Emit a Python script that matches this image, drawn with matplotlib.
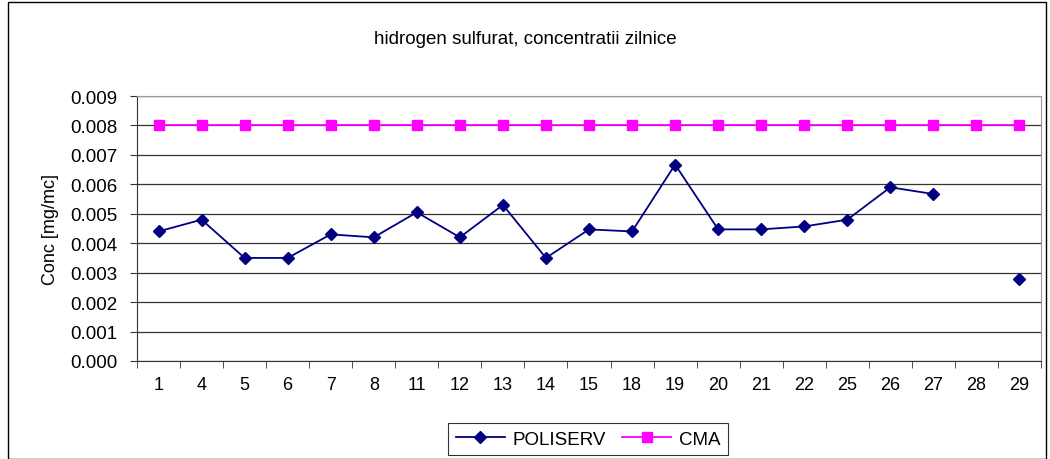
import numpy as np
import matplotlib
matplotlib.use('Agg')
from matplotlib import pyplot as plt
from matplotlib.patches import Rectangle

days = ['1', '4', '5', '6', '7', '8', '11', '12', '13', '14', '15', '18', '19',
        '20', '21', '22', '25', '26', '27', '28', '29']
poliserv = [0.0044, 0.0048, 0.0035, 0.0035, 0.0043, 0.0042, 0.00505, 0.0042, 0.0053,
            0.0035, 0.00447, 0.0044, 0.00667, 0.00447, 0.00447, 0.00457, 0.0048,
            0.0059, 0.00567, np.nan, 0.0028]
cma = [0.008] * len(days)

plt.rcParams['font.family'] = ['Liberation Sans', 'DejaVu Sans']

fig = plt.figure(figsize=(10.5, 4.6), dpi=100)
ax = fig.add_axes([137/1050, 1 - 362/460, (1041-137)/1050, (362-97)/460])

x = np.arange(len(days))
ax.plot(x, poliserv, color='#000080', marker='D', markersize=6, lw=1.3, label='POLISERV')
ax.plot(x, cma, color='#FF00FF', marker='s', markersize=6.5, lw=1.3, label='CMA')

ax.set_xlim(-0.5, len(days) - 0.5)
ax.set_ylim(0, 0.009)
ax.set_yticks(np.arange(0, 0.0091, 0.001))
ax.set_yticklabels(['%.3f' % v for v in np.arange(0, 0.0091, 0.001)], fontsize=13.5)
ax.set_xticks(x)
ax.set_xticklabels(days, fontsize=13)
ax.set_xticks(np.arange(-0.5, len(days), 1), minor=True)
ax.tick_params(axis='x', which='major', length=0, pad=11)
ax.tick_params(axis='x', which='minor', length=5, direction='out', color='#333333')
ax.tick_params(axis='y', length=5, direction='out', color='#333333', pad=9)
ax.yaxis.grid(True, color='#333333', lw=0.9)
ax.set_axisbelow(True)
for side in ['top', 'right']:
    ax.spines[side].set_color('#999999')
for side in ['left', 'bottom']:
    ax.spines[side].set_color('#333333')

ax.set_ylabel('Conc [mg/mc]', fontsize=13, labelpad=8)
fig.text(0.5, 1 - 40/460, 'hidrogen sulfurat, concentratii zilnice', ha='center', va='center', fontsize=13.5)

leg = fig.legend(loc='center', bbox_to_anchor=(588/1050, 1 - 440/460), ncol=2, fontsize=13.5,
                 frameon=True, fancybox=False, edgecolor='black', handlelength=2.6,
                 columnspacing=0.9, handletextpad=0.4, borderpad=0.4)
leg.get_frame().set_linewidth(0.8)

fig.patches.append(Rectangle((8/1050, 0), 1038/1050, 1 - 3/460, transform=fig.transFigure,
                             fill=False, edgecolor='black', lw=1))

fig.savefig('out.png', dpi=100)
